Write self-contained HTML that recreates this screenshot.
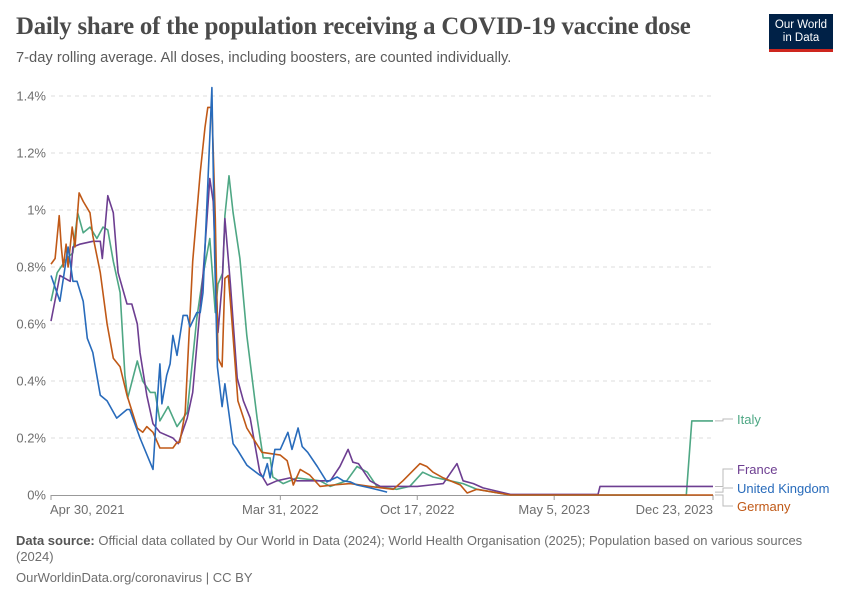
<!DOCTYPE html>
<html><head><meta charset="utf-8"><style>
body{margin:0;background:#fff;width:850px;height:600px;overflow:hidden;font-family:"Liberation Sans",sans-serif;}
#title{position:absolute;left:16px;top:13px;font-family:"Liberation Serif",serif;font-size:24.8px;color:#4a4a4a;font-weight:bold;letter-spacing:-0.2px}
#sub{position:absolute;left:16px;top:50px;font-size:14.7px;color:#5b5b5b}
#logo{position:absolute;left:769px;top:14px;width:64px;height:38px;background:#002147;border-bottom:3px solid #ce261e;color:#fff;font-size:11.5px;line-height:13px;text-align:center;box-sizing:border-box;padding-top:5px}
#foot{position:absolute;left:16px;top:533px;font-size:13px;color:#6e6e6e;line-height:16px;width:800px}
#foot b{color:#555}
#foot2{position:absolute;left:16px;top:570px;font-size:13px;color:#6e6e6e}
svg{position:absolute;left:0;top:0}
</style></head><body>
<div id="title">Daily share of the population receiving a COVID-19 vaccine dose</div>
<div id="sub">7-day rolling average. All doses, including boosters, are counted individually.</div>
<div id="logo">Our World<br>in Data</div>
<div id="foot"><b>Data source:</b> Official data collated by Our World in Data (2024); World Health Organisation (2025); Population based on various sources (2024)</div>
<div id="foot2">OurWorldinData.org/coronavirus | CC BY</div>
<svg id="chart" width="850" height="600"></svg>
<script>
const yTicks=[0,0.2,0.4,0.6,0.8,1,1.2,1.4];
const yTickLabels=["0%","0.2%","0.4%","0.6%","0.8%","1%","1.2%","1.4%"];
const xTicks=[0,335,535,735,967];
const xTickLabels=["Apr 30, 2021","Mar 31, 2022","Oct 17, 2022","May 5, 2023","Dec 23, 2023"];
const seriesNames=["Italy","France","United Kingdom","Germany"];
const ukDays=[0,13,25,32,38,47,53,61,72,82,96,111,115,130,149,155,159,162,169,174,178,184,193,199,203,213,218,222,229,235,239,243,250,254,266,272,286,291,305,310,316,320,327,335,346,352,361,367,375,389,403,418,427,437,447,466,491];
const ukVals=[0.77,0.68,0.87,0.75,0.75,0.68,0.55,0.50,0.35,0.33,0.27,0.30,0.30,0.20,0.09,0.32,0.46,0.32,0.42,0.46,0.56,0.49,0.63,0.63,0.59,0.64,0.64,0.71,1.09,1.43,0.85,0.45,0.31,0.39,0.18,0.16,0.105,0.095,0.07,0.063,0.11,0.06,0.16,0.16,0.22,0.16,0.235,0.17,0.15,0.10,0.046,0.063,0.05,0.046,0.035,0.025,0.01];
const frDays=[0,13,28,32,42,61,72,75,79,83,91,98,111,118,126,130,140,149,159,178,186,199,207,222,232,237,244,250,254,262,272,281,291,305,316,330,349,359,408,422,434,441,449,466,481,505,535,554,573,593,602,617,631,671,799,802,967];
const frVals=[0.61,0.77,0.75,0.87,0.88,0.89,0.89,0.83,0.94,1.05,0.99,0.78,0.67,0.67,0.60,0.50,0.35,0.25,0.22,0.20,0.18,0.27,0.36,0.77,1.11,1.03,0.57,0.74,0.97,0.74,0.41,0.33,0.27,0.08,0.035,0.05,0.06,0.05,0.05,0.10,0.16,0.115,0.11,0.05,0.03,0.03,0.03,0.035,0.04,0.11,0.05,0.04,0.025,0.002,0.002,0.03,0.03];
const itDays=[0,9,23,32,39,47,57,67,76,83,91,101,108,112,126,134,145,152,159,171,184,199,213,222,232,240,244,251,254,260,266,276,286,301,310,320,324,339,359,393,408,432,447,462,476,505,524,543,558,583,602,622,671,928,936,967];
const itVals=[0.68,0.78,0.83,0.85,0.99,0.92,0.94,0.90,0.94,0.93,0.82,0.71,0.42,0.34,0.47,0.40,0.36,0.36,0.26,0.31,0.24,0.29,0.62,0.77,0.90,0.64,0.74,0.78,0.98,1.12,0.99,0.83,0.56,0.27,0.13,0.13,0.063,0.04,0.06,0.05,0.03,0.05,0.10,0.08,0.03,0.02,0.03,0.08,0.063,0.05,0.04,0.02,0.0,0.0,0.26,0.26];
const deDays=[0,6,12,15,18,22,25,31,35,41,47,57,61,72,82,91,101,111,126,134,140,149,159,178,184,188,196,207,218,225,229,235,240,244,250,254,259,264,273,286,308,335,345,354,364,378,393,412,437,466,500,514,539,549,558,573,598,608,622,671,967];
const deVals=[0.81,0.83,0.98,0.87,0.80,0.88,0.80,0.94,0.87,1.06,1.03,0.99,0.91,0.78,0.60,0.48,0.45,0.35,0.235,0.22,0.24,0.22,0.165,0.165,0.185,0.185,0.29,0.82,1.13,1.29,1.36,1.36,0.97,0.48,0.45,0.76,0.77,0.62,0.33,0.235,0.15,0.14,0.12,0.035,0.09,0.07,0.03,0.035,0.04,0.03,0.02,0.05,0.11,0.10,0.08,0.06,0.035,0.007,0.02,0.0,0.0];
const colors=["#4ea784","#6d3e91","#286bbb","#c05917"];

const svg=document.getElementById('chart');
const NS="http://www.w3.org/2000/svg";
const X0=51,X1=713,Y0=495,YTOP=96;
const x=d=>X0+d*(X1-X0)/967;
const y=v=>Y0-v*(Y0-YTOP)/1.4;
function mk(tag,attrs,parent){const e=document.createElementNS(NS,tag);for(const k in attrs)e.setAttribute(k,attrs[k]);(parent||svg).appendChild(e);return e;}
yTicks.forEach((t,i)=>{
  if(i>0){const g=mk('line',{x1:X0,x2:X1,y1:y(t),y2:y(t),stroke:'#dcdcdc','stroke-dasharray':'4,4'});
  
  }
  const tx=mk('text',{x:46,y:y(t)+4.5,'text-anchor':'end','font-size':'13',fill:'#6e6e6e','font-family':'Liberation Sans, sans-serif'});
  tx.textContent=yTickLabels[i];
  
  
});
const ax=mk('line',{x1:X0,x2:X1,y1:Y0+0.5,y2:Y0+0.5,stroke:'#999'});


xTicks.forEach((d,i)=>{
  const tk=mk('line',{x1:x(d),x2:x(d),y1:Y0,y2:Y0+5,stroke:'#999'});
  
  
  const anchor=i==0?'start':(i==xTicks.length-1?'end':'middle');
  const tx=mk('text',{x:x(d)+(i==0?-1:0),y:Y0+19,'text-anchor':anchor,'font-size':'13',fill:'#6e6e6e','font-family':'Liberation Sans, sans-serif'});
  tx.textContent=xTickLabels[i];
  
  
});
const allDays=[itDays,frDays,ukDays,deDays],allVals=[itVals,frVals,ukVals,deVals];
const order=[0,1,3,2];
order.forEach(s=>{
  const pts=allDays[s].map((d,i)=>x(d).toFixed(1)+','+y(allVals[s][i]).toFixed(1)).join(' ');
  const p=mk('polyline',{points:pts,fill:'none',stroke:colors[s],'stroke-width':'1.6','stroke-linejoin':'round'});
  
  
});
const labY=[423,473,492,510];
seriesNames.forEach((n,s)=>{
  const endV=allVals[s][allVals[s].length-1];
  const c=mk('polyline',{points:`${X1+2},${y(endV)} ${X1+10},${y(endV)} ${X1+10},${labY[s]-4} ${X1+20},${labY[s]-4}`,fill:'none',stroke:'#bbb','stroke-width':'1'});
  
  
  const t=mk('text',{x:737,y:labY[s]+1,'font-size':'13',fill:colors[s],'font-family':'Liberation Sans, sans-serif'});
  t.textContent=n;
  
  
});
</script>
</body></html>
